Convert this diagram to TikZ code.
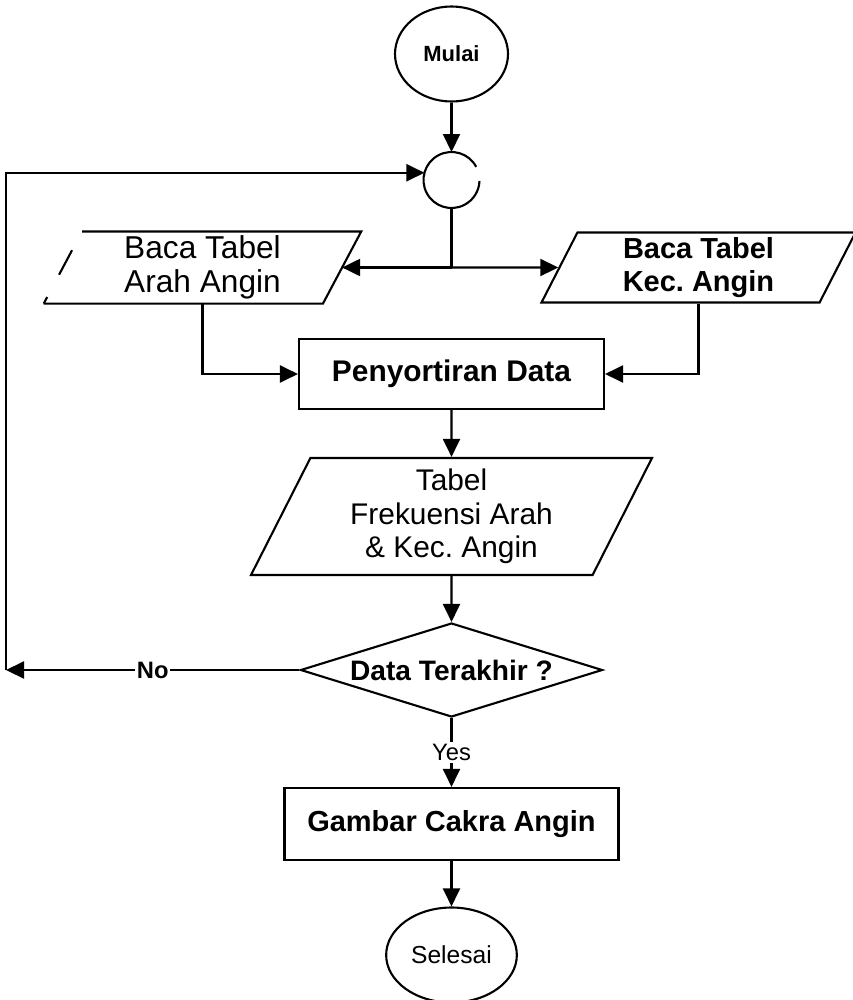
\documentclass[tikz,border=0pt]{standalone}
\usepackage{fontspec}
\setmainfont{Liberation Sans}
\frenchspacing
\usetikzlibrary{positioning, calc, shapes.geometric, arrows.meta}
\newcommand{\normtxt}{\fontsize{17}{19}\selectfont}
\newcommand{\boldtxt}{\fontsize{16.5}{19}\selectfont\bfseries}
\tikzstyle{terminal} = [draw, ellipse, minimum width=2.26cm, minimum height=1.9cm]
\tikzstyle{block} = [draw, rectangle,
    minimum height=1.4cm, minimum width=6.1cm]
\tikzstyle{io} = [trapezium, trapezium left angle=62, trapezium right angle=118,
    trapezium stretches body, minimum height=1.4cm, minimum width=6.28cm,
    inner sep=2pt, align=center]
\tikzstyle{decision} = [draw, diamond, aspect=3.2, inner sep=0pt,
    minimum width=6.04cm, minimum height=1.88cm]
\tikzstyle{lbl} = [fill=white, inner sep=1pt]

\begin{document}
\begin{tikzpicture}[node distance=2.6cm, line width=1.2pt,
    >={Triangle[length=0.36cm,width=0.34cm]}]
        \useasboundingbox (0,0) rectangle (17.06,-20);

        \node[terminal, font=\fontsize{12.5}{14}\selectfont\bfseries] (mulai) at (9.03,-1.08) {Mulai};
        \node[
            circle, inner sep=0pt, outer sep=0pt, minimum size=1.12cm,
            below of=mulai,
            node distance=2.52cm
        ](conn){};
        \draw (conn.28) arc[start angle=28, end angle=358, radius=0.56cm];

        \node[io, font=\fontsize{18}{19}\selectfont] (lp) at (4.05,-5.35) {Baca Tabel\\Arah Angin};
        \node[io, draw, font=\boldtxt] (rp) at (13.97,-5.35) {Baca Tabel\\Kec. Angin};

        \node[block, font=\fontsize{17}{19}\selectfont\bfseries, below of=conn, node distance=3.88cm](proc){Penyortiran Data};
        \node[
            io, draw, font=\normtxt,
            trapezium left angle=59.7, trapezium right angle=120.3,
            minimum width=8.02cm, minimum height=2.34cm,
            below of=proc,
            node distance=2.85cm
        ](tab){Tabel\\Frekuensi Arah\\\& Kec. Angin};
        \node[decision, font=\fontsize{16}{19}\selectfont\bfseries, below of=tab, node distance=3.07cm](dec){Data Terakhir ?};
        \node[
            block, font=\boldtxt,
            minimum width=6.68cm, minimum height=1.44cm,
            below of=dec,
            node distance=3.08cm
        ](gam){Gambar Cakra Angin};
        \node[terminal, font=\fontsize{14}{16}\selectfont, below of=gam, node distance=2.62cm](sel){Selesai};

        % box on the left, left side only partly drawn
        \draw (lp.bottom left corner) -- (lp.bottom right corner)
            -- (lp.top right corner) -- (lp.top left corner);
        \draw ($(lp.bottom left corner)!0.4!(lp.top left corner)$)
            -- ($(lp.bottom left corner)!0.74!(lp.top left corner)$);
        \draw (lp.bottom left corner) -- ($(lp.bottom left corner)!0.09!(lp.top left corner)$);

        \coordinate (split) at (conn.south |- lp.east);
        \coordinate (edge) at (0.12,0);
        \coordinate (loopbot) at (dec.west -| edge);

        \draw[->] (mulai) -- (conn);
        \draw (conn) -- (split);
        \draw[->] (split) -- (lp.east);
        \draw[->] (split) -- (rp.west);
        \draw[->] (lp.bottom side -| lp.center) |- (proc.west);
        \draw[->] (rp.bottom side -| rp.center) |- (proc.east);
        \draw[->] (proc) -- (tab);
        \draw[->] (tab) -- (dec);
        \draw[->] (dec) -- node[lbl, font=\fontsize{13.5}{15}\selectfont\bfseries] {No} (loopbot);
        \draw[->] (loopbot) |- (conn.165);
        \draw[->] (dec) -- node[lbl, font=\fontsize{13.5}{15}\selectfont] {Yes} (gam);
        \draw[->] (gam) -- (sel);
    \end{tikzpicture}
\end{document}
